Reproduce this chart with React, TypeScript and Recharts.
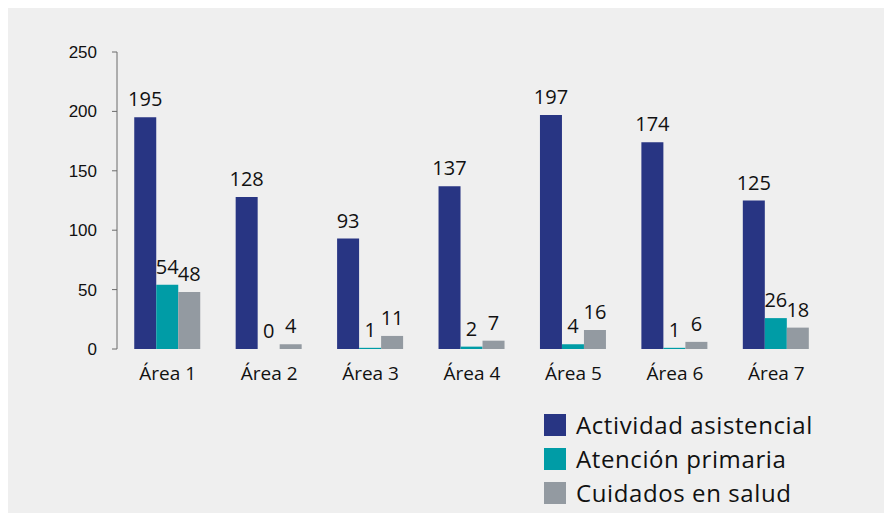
import { ComposedChart, Bar, XAxis, YAxis, Legend, LabelList } from 'recharts'

const areas = ['Área 1', 'Área 2', 'Área 3', 'Área 4', 'Área 5', 'Área 6', 'Área 7']
const actividad = [195, 128, 93, 137, 197, 174, 125]
const atencion = [54, 0, 1, 2, 4, 1, 26]
const cuidados = [48, 4, 11, 7, 16, 6, 18]
const yTicks = [0, 50, 100, 150, 200, 250]
const edgeTicks = [0, 1, 2, 3, 4, 5, 6, 7]

const series = [
  { key: 'actividad', name: 'Actividad asistencial', color: '#283583' },
  { key: 'atencion', name: 'Atención primaria', color: '#009ca6' },
  { key: 'cuidados', name: 'Cuidados en salud', color: '#939aa1' },
]

const data = areas.map((area, i) => ({
  area,
  actividad: actividad[i],
  atencion: atencion[i],
  cuidados: cuidados[i],
}))

const sans = '"Open Sans", sans-serif'
const axisColor = '#6b6b6b'

const renderLegend = () => (
  <div style={{ marginLeft: 536, marginTop: -3, fontFamily: sans, fontSize: 24, letterSpacing: 0.6, color: '#111' }}>
    {series.map((s) => (
      <div key={s.key} style={{ display: 'flex', alignItems: 'center', height: 34, lineHeight: '30px' }}>
        <span style={{ width: 22, height: 22, background: s.color, marginRight: 10 }} />
        <span>{s.name}</span>
      </div>
    ))}
  </div>
)

// draws the value above each bar, also when the bar has zero height
const renderValue = (props: any) => {
  const { x, y, width, value } = props
  return (
    <text
      x={Number(x) + Number(width) / 2}
      y={Number(y) - 11}
      textAnchor="middle"
      fill="#111"
      fontSize={20}
      fontFamily={sans}
    >
      {value}
    </text>
  )
}

// zero values get a hairline bar so their label is still placed
const zeroSize = (v: any) => (Number(v) === 0 ? 0.1 : 0)

export default function App() {
  return (
    <div style={{ width: 879, height: 505, background: '#efefef' }}>
      <ComposedChart
        width={879}
        height={505}
        data={data}
        margin={{ top: 44, right: 60, left: 0, bottom: 2 }}
        barCategoryGap="17%"
        barGap={0}
      >
        <XAxis
          xAxisId="edges"
          type="number"
          domain={[0, 7]}
          ticks={edgeTicks}
          tick={false}
          height={0}
          stroke={axisColor}
          tickSize={5}
        />
        <XAxis
          dataKey="area"
          axisLine={false}
          tickLine={false}
          height={62}
          tickMargin={12}
          tick={{ fill: '#111', fontSize: 19, fontFamily: sans }}
        />
        <YAxis
          domain={[0, 250]}
          ticks={yTicks}
          width={109}
          stroke={axisColor}
          tickSize={5}
          tickMargin={15}
          tick={{ fill: '#111', fontSize: 17, fontFamily: '"Liberation Sans", sans-serif' }}
        />
        <Legend verticalAlign="bottom" align="left" height={100} content={renderLegend} />
        {series.map((s) => (
          <Bar
            key={s.key}
            dataKey={s.key}
            name={s.name}
            fill={s.color}
            minPointSize={zeroSize}
            isAnimationActive={false}
          >
            <LabelList dataKey={s.key} content={renderValue} />
          </Bar>
        ))}
      </ComposedChart>
    </div>
  )
}
